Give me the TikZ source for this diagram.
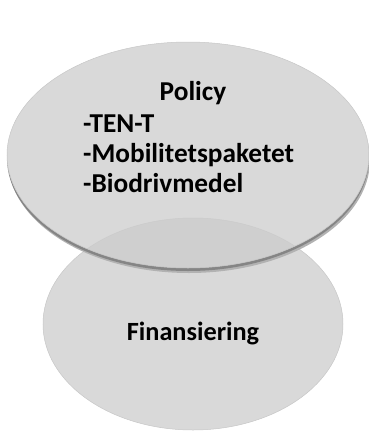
\documentclass[tikz,border=0pt]{standalone}
\usepackage{fontspec}
\setmainfont{Carlito}
\tikzset{
  bubble/.style={fill=black!15, draw=black!22, line width=0.5pt},
  bubbletext/.style={font=\fontsize{27.3}{30}\selectfont\bfseries, inner sep=0pt},
}

\begin{document}
\begin{tikzpicture}[x=1pt,y=-1pt]
		%%%%% START %%%%%
		\useasboundingbox (0,0) rectangle (369,432);
		
		% lower bubble
		\draw[bubble] (193,324) ellipse (150 and 106);
		
		% shadow rim under the upper bubble
		\begin{scope}[even odd rule]
			\clip (0,0) rectangle (369,432) (188,155) ellipse (181 and 113);
			\fill[black!30] (189,160) ellipse (181 and 113);
			\fill[black!48] (188,158) ellipse (181 and 113);
		\end{scope}
		
		% upper bubble
		\draw[bubble, fill=black!20, fill opacity=0.75] (188,155) ellipse (181 and 113);
		
		\node[bubbletext, anchor=base] (policy) at (193,100) {Policy};
		\node[bubbletext, anchor=base west] (tent) at (83,132) {-TEN-T};
		\node[bubbletext, anchor=base west] (mobpkt) at (83,162) {-Mobilitetspaketet};
		\node[bubbletext, anchor=base west] (biodriv) at (83,192) {-Biodrivmedel};
		
		\node[bubbletext, font=\fontsize{26.3}{30}\selectfont\bfseries, anchor=base] (finans) at (193,340) {Finansiering};
		
		%%%%% END %%%%%
	\end{tikzpicture}
\end{document}
